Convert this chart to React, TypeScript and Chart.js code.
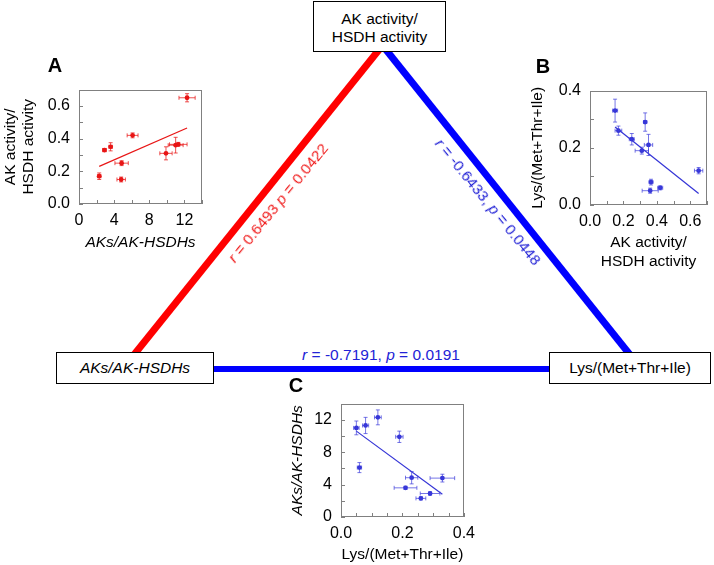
import React, { useEffect, useRef } from 'react';
import { Chart, registerables } from 'chart.js';

Chart.register(...registerables);

const FONT = "'Liberation Sans', Arial, Helvetica, sans-serif";

// ---- Data: one entry per sample (same 10 samples in all three panels) ----
const aksRatio = [2.3, 2.9, 3.6, 4.85, 4.8, 6.1, 9.9, 11.0, 11.3, 12.3];
const aksErr = [0.2, 0.2, 0.2, 0.76, 0.48, 0.62, 0.7, 0.85, 1.0, 0.92];
const akActivity = [0.17, 0.33, 0.35, 0.25, 0.15, 0.42, 0.31, 0.36, 0.365, 0.65];
const akErr = [0.02, 0.01, 0.025, 0.015, 0.015, 0.015, 0.04, 0.048, 0.012, 0.025];
const lysRatio = [0.26, 0.29, 0.21, 0.23, 0.33, 0.06, 0.19, 0.05, 0.08, 0.12];
const lysErr = [0.016, 0.032, 0.037, 0.02, 0.04, 0.007, 0.012, 0.009, 0.01, 0.011];

// regression line end points
const fitAX = [2.3, 12.3];
const fitAY = [0.23, 0.465];
const fitBX = [0.15, 0.65];
const fitBY = [0.273, 0.04];
const fitCX = [0.05, 0.33];
const fitCY = [10.6, 2.8];

// correlation labels
const corrAB = { r: '0.6493', p: '0.0422', sep: ' ' };
const corrBC = { r: '-0.6433', p: '0.0448', sep: ', ' };
const corrAC = { r: '-0.7191', p: '0.0191', sep: ', ' };

const nodeTop = ['AK activity/', 'HSDH activity'];
const nodeLeft = 'AKs/AK-HSDHs';
const nodeRight = 'Lys/(Met+Thr+Ile)';

const RED = 'rgb(232,22,22)';
const RED_ERR = 'rgba(232,22,22,0.75)';
const BLUE = 'rgb(52,52,214)';
const BLUE_ERR = 'rgba(60,60,220,0.7)';

const TICK_SIZE = 16;
const TITLE_SIZE = 15.5;

const panelPlugin = {
  id: 'panelDecor',
  beforeDatasetsDraw(chart: any) {
    const { ctx, chartArea } = chart;
    const xs = chart.scales.x;
    const ys = chart.scales.y;
    ctx.save();
    ctx.strokeStyle = '#808080';
    ctx.lineWidth = 1;
    ctx.strokeRect(
      Math.round(chartArea.left) + 0.5,
      Math.round(chartArea.top) + 0.5,
      Math.round(chartArea.right - chartArea.left) - 1,
      Math.round(chartArea.bottom - chartArea.top) - 1
    );
    ctx.beginPath();
    xs.ticks.forEach((t: any) => {
      const px = Math.round(xs.getPixelForValue(t.value)) + 0.5;
      ctx.moveTo(px, chartArea.bottom);
      ctx.lineTo(px, chartArea.bottom - 4);
    });
    ys.ticks.forEach((t: any) => {
      const py = Math.round(ys.getPixelForValue(t.value)) + 0.5;
      ctx.moveTo(chartArea.left, py);
      ctx.lineTo(chartArea.left + 4, py);
    });
    ctx.stroke();
    ctx.restore();
  },
  afterDatasetsDraw(chart: any) {
    const { ctx } = chart;
    const xs = chart.scales.x;
    const ys = chart.scales.y;
    const ds = chart.data.datasets[0];
    ctx.save();
    ctx.strokeStyle = ds.errColor;
    ctx.lineWidth = 1;
    ctx.beginPath();
    ds.data.forEach((p: any, i: number) => {
      const px = xs.getPixelForValue(p.x);
      const py = ys.getPixelForValue(p.y);
      const x1 = xs.getPixelForValue(p.x - ds.errX[i]);
      const x2 = xs.getPixelForValue(p.x + ds.errX[i]);
      const y1 = ys.getPixelForValue(p.y - ds.errY[i]);
      const y2 = ys.getPixelForValue(p.y + ds.errY[i]);
      ctx.moveTo(x1, py); ctx.lineTo(x2, py);
      ctx.moveTo(x1, py - 2); ctx.lineTo(x1, py + 2);
      ctx.moveTo(x2, py - 2); ctx.lineTo(x2, py + 2);
      ctx.moveTo(px, y1); ctx.lineTo(px, y2);
      ctx.moveTo(px - 2, y1); ctx.lineTo(px + 2, y1);
      ctx.moveTo(px - 2, y2); ctx.lineTo(px + 2, y2);
    });
    ctx.stroke();
    ctx.restore();
  },
};

function isMajor(v: number, major: number) {
  const q = v / major;
  return Math.abs(q - Math.round(q)) < 1e-6;
}

function axis(o: any, isX: boolean) {
  return {
    type: 'linear',
    position: isX ? 'bottom' : 'left',
    min: o.min,
    max: o.max,
    grid: { display: false, drawTicks: false },
    border: { display: false },
    ticks: {
      stepSize: o.step,
      autoSkip: false,
      maxRotation: 0,
      padding: isX ? 7 : 9,
      color: '#000',
      font: { family: FONT, size: TICK_SIZE },
      callback: (v: any) => (isMajor(Number(v), o.major) ? Number(v).toFixed(o.dec) : ''),
    },
    title: {
      display: true,
      text: o.title,
      color: '#000',
      font: { family: FONT, size: TITLE_SIZE, style: o.italic ? 'italic' : 'normal', lineHeight: 1.2 },
      padding: { top: o.titleTop || 0, bottom: o.titleBottom || 0 },
    },
    afterFit: (s: any) => {
      if (isX) s.height = o.size;
      else s.width = o.size;
    },
  };
}

function Panel(props: any) {
  const c = props.cfg;
  const ref = useRef<HTMLCanvasElement | null>(null);
  useEffect(() => {
    if (!ref.current) return;
    const pts = c.xs.map((x: number, i: number) => ({ x, y: c.ys[i] }));
    const fit = c.fitX.map((x: number, i: number) => ({ x, y: c.fitY[i] }));
    const chart = new Chart(ref.current, {
      type: 'scatter',
      data: {
        datasets: [
          {
            data: pts,
            errX: c.errX,
            errY: c.errY,
            errColor: c.errColor,
            pointRadius: 2.4,
            pointBackgroundColor: c.color,
            pointBorderWidth: 0,
            showLine: false,
          } as any,
          {
            data: fit,
            showLine: true,
            pointRadius: 0,
            borderColor: c.color,
            borderWidth: 1.2,
          } as any,
        ],
      },
      options: {
        responsive: false,
        maintainAspectRatio: false,
        animation: false,
        events: [],
        layout: { padding: c.pad },
        plugins: { legend: { display: false }, tooltip: { enabled: false } },
        scales: { x: axis(c.x, true), y: axis(c.y, false) } as any,
      },
      plugins: [panelPlugin],
    });
    return () => chart.destroy();
  }, []);
  return (
    <canvas
      ref={ref}
      width={c.w}
      height={c.h}
      style={{ position: 'absolute', left: c.left, top: c.top, width: c.w, height: c.h }}
    />
  );
}

const panelA = {
  left: 0, top: 71, w: 232, h: 189,
  pad: { top: 12, right: 30, left: 0, bottom: 0 },
  xs: aksRatio, ys: akActivity, errX: aksErr, errY: akErr, fitX: fitAX, fitY: fitAY,
  color: RED, errColor: RED_ERR,
  x: { min: 0, max: 14, step: 2, major: 4, dec: 0, title: nodeLeft, italic: true, titleBottom: 8, size: 56 },
  y: { min: 0, max: 0.7, step: 0.1, major: 0.2, dec: 1, title: nodeTop, titleTop: 1, size: 79 },
};

const panelB = {
  left: 520, top: 72, w: 194, h: 204,
  pad: { top: 12, right: 4, left: 0, bottom: 0 },
  xs: akActivity, ys: lysRatio, errX: akErr, errY: lysErr, fitX: fitBX, fitY: fitBY,
  color: BLUE, errColor: BLUE_ERR,
  x: { min: 0, max: 0.7, step: 0.1, major: 0.2, dec: 1, title: nodeTop, titleBottom: 5, size: 71 },
  y: { min: 0, max: 0.4, step: 0.1, major: 0.2, dec: 1, title: nodeRight, titleTop: 8, size: 70 },
};

const panelC = {
  left: 270, top: 385, w: 212, h: 180,
  pad: { top: 12, right: 18, left: 0, bottom: 0 },
  xs: lysRatio, ys: aksRatio, errX: lysErr, errY: aksErr, fitX: fitCX, fitY: fitCY,
  color: BLUE, errColor: BLUE_ERR,
  x: { min: 0, max: 0.4, step: 0.05, major: 0.2, dec: 1, title: nodeRight, titleBottom: 1, size: 48 },
  y: { min: 0, max: 14, step: 2, major: 4, dec: 0, title: nodeLeft, italic: true, titleTop: 18, size: 71 },
};

function CorrLabel(props: any) {
  const { c, x, y, angle, color } = props;
  return (
    <div
      style={{
        position: 'absolute', left: x, top: y,
        transform: `translate(-50%, -50%) rotate(${angle}deg)`,
        whiteSpace: 'nowrap', fontSize: 15.5, lineHeight: '18px', color,
      }}
    >
      <i>r</i> = {c.r}{c.sep}<i>p</i> = {c.p}
    </div>
  );
}

function Letter(props: any) {
  return (
    <div
      style={{
        position: 'absolute', left: props.x, top: props.y,
        transform: 'translate(-50%, -50%)', fontWeight: 'bold', fontSize: 20, lineHeight: 1,
      }}
    >
      {props.t}
    </div>
  );
}

const boxStyle: any = {
  position: 'absolute', boxSizing: 'border-box', border: '1px solid #000', background: '#fff',
  display: 'flex', flexDirection: 'column', alignItems: 'center', justifyContent: 'center',
  fontSize: 15.5, lineHeight: '18px', color: '#000', whiteSpace: 'nowrap',
};

export default function App() {
  const angL = -Math.atan2(300, 245) * 180 / Math.PI;
  const angR = Math.atan2(300, 244) * 180 / Math.PI;
  return (
    <div
      style={{
        position: 'absolute', left: 0, top: 0, width: 714, height: 565,
        background: '#fff', overflow: 'hidden', fontFamily: FONT,
      }}
    >
      <svg width={714} height={565} style={{ position: 'absolute', left: 0, top: 0 }}>
        <line x1={382} y1={46} x2={133} y2={356} stroke="#ff0000" strokeWidth={7} />
        <line x1={383} y1={46} x2={631} y2={356} stroke="#0000ff" strokeWidth={7} />
        <line x1={210} y1={369} x2={553} y2={369} stroke="#0000ff" strokeWidth={6} />
      </svg>

      <Panel cfg={panelA} />
      <Panel cfg={panelB} />
      <Panel cfg={panelC} />

      <div style={{ ...boxStyle, left: 313, top: 1, width: 133, height: 51, paddingTop: 3 }}>
        <div>{nodeTop[0]}</div>
        <div>{nodeTop[1]}</div>
      </div>
      <div style={{ ...boxStyle, left: 56, top: 352, width: 158, height: 32, fontStyle: 'italic' }}>
        {nodeLeft}
      </div>
      <div style={{ ...boxStyle, left: 549, top: 352, width: 162, height: 32 }}>{nodeRight}</div>

      <CorrLabel c={corrAB} x={278} y={203} angle={angL} color="#f01c1c" />
      <CorrLabel c={corrBC} x={488} y={202} angle={angR} color="#2222d6" />
      <CorrLabel c={corrAC} x={381} y={355} angle={0} color="#2222d6" />

      <Letter t="A" x={55} y={65} />
      <Letter t="B" x={543} y={66} />
      <Letter t="C" x={296} y={385} />
    </div>
  );
}
